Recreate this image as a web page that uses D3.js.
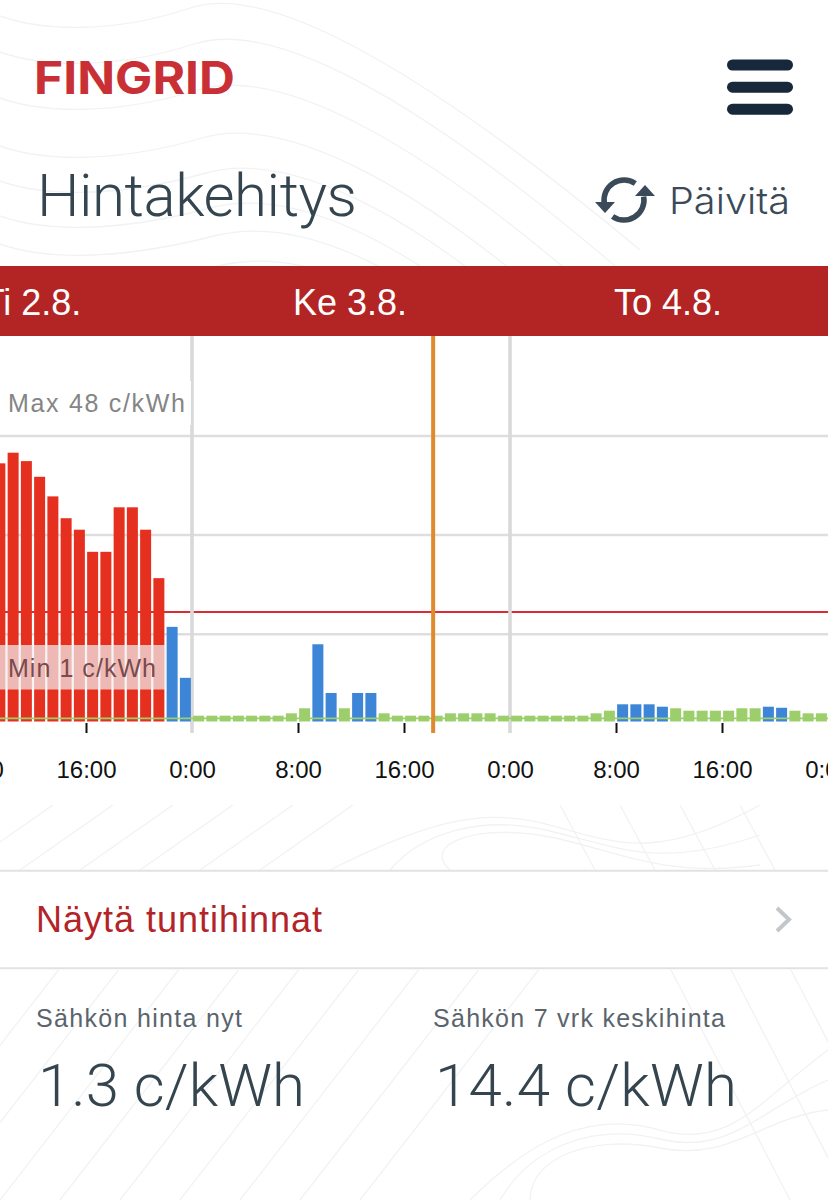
<!DOCTYPE html>
<html><head><meta charset="utf-8">
<script src="https://cdnjs.cloudflare.com/ajax/libs/d3/7.8.5/d3.min.js"></script>
<style>
html,body{margin:0;padding:0;background:#fff;overflow:hidden}
svg{display:block}
text{font-family:"Liberation Sans",Arial,sans-serif}
.light{font-family:Roboto,Inter,sans-serif;font-weight:300}
</style></head><body>
<svg id="c" width="828" height="1200"></svg>
<script>
// ---- data (c/kWh), hours counted from Wed 3.8. 00:00 ----
const dayLabels = ["Ti 2.8.", "Ke 3.8.", "To 4.8."];
const dayHours = [-12, 12, 36];
const dayLines = [0, 24];
const tueStartHour = -15; // 09:00 on 2.8.
const tueValues = [46.1,48.0,46.5,43.7,40.2,36.3,34.25,30.3,30.3,38.25,38.25,34.25,25.6,16.9,7.8];
const wedValues = [1.04,1.04,1.04,1.04,1.04,1.04,1.04,1.46,2.36,13.79,5.09,2.36,5.09,5.09,1.46,1.04,1.04,1.04,1.04,1.46,1.46,1.46,1.46,1.04];
const thuValues = [1.04,1.04,1.04,1.04,1.04,1.04,1.46,1.93,3.07,3.07,3.07,2.64,2.36,1.93,1.93,1.93,1.93,2.36,2.36,2.64,2.45,1.93,1.46,1.46];
const tickHours = [-16,-8,0,8,16,24,32,40,48];
const tickLabels = ["8:00","16:00","0:00","8:00","16:00","0:00","8:00","16:00","0:00"];
const gridValues = [15.6,33.3,51];
const redLimit = 19.55, blueLimit = 2.4, greenLine = 0.55, nowHour = 18.2;
const maxLabel = "Max 48 c/kWh", minLabel = "Min 1 c/kWh";
const C = {red:"#e6301f", blue:"#3d85d6", green:"#9ccf6c", grid:"#dedede", orange:"#e08a2e", band:"#b32424", ink:"#35454f"};

const svg = d3.select("#c");
const x = d3.scaleLinear().domain([0,24]).range([192,510]);
const y = d3.scaleLinear().domain([0,48]).range([721.5,452.7]);
const bottom = 733, top_ = 336;
const W = 828;

// ---- decorative background contours ----
const defs = svg.append("defs");
const cp = defs.append("clipPath").attr("id","bg");
[[0,0,828,266],[0,805,828,65],[0,970,828,230]].forEach(r=>cp.append("rect").attr("x",r[0]).attr("y",r[1]).attr("width",r[2]).attr("height",r[3]));
const bg = svg.append("g").attr("clip-path","url(#bg)").attr("fill","none").attr("stroke","#f1f2f3").attr("stroke-width",1.3);
[0,36,82,130,165,200,228,258].forEach((d,i)=>{
  bg.append("path").attr("d",`M-10 ${12+d} C40 ${34+d},120 ${32+d},${190+i*4} ${8+d} S${400+i*8} ${50+d},${640-i*6} ${250+d*.9}`);
});
[0,60,120,180,240,300].forEach(d=>{
  bg.append("path").attr("d",`M${d-40} 870 L${d+60} 800`);
});
[0,60,120,180,240,300,360,420,480].forEach(d=>{
  bg.append("path").attr("d",`M${d-120} 1200 L${d+60} 968`);
});
[0,30,60].forEach(d=>{
  bg.append("path").attr("d",`M${330+d*2} 870 C420 ${825+d*.3},480 ${805+d*.3},550 ${825+d*.2} S660 ${860+d*.3},760 ${805+d}`);
  bg.append("path").attr("d",`M${470+d} 1200 C530 ${1140+d*.3},590 ${1110+d*.4},660 ${1130+d*.3} S760 ${1100+d*.3},828 ${1050+d}`);
});
[560,620,680,740].forEach(d=>{
  bg.append("path").attr("d",`M${d} 805 L${d+35} 870`);
  bg.append("path").attr("d",`M${d+110} 968 L${d+230} 1200`);
});

// ---- header ----
svg.append("text").text("FINGRID").attr("x",34).attr("y",94).attr("textLength",201).attr("lengthAdjust","spacingAndGlyphs")
  .style("font-family","Inter,Lato,sans-serif").style("font-weight",700).attr("font-size",45).attr("fill","#c93035");
[[59.5],[81.7],[103.7]].forEach(d=>svg.append("rect").attr("x",727).attr("y",d[0]).attr("width",66).attr("height",11).attr("rx",5.5).attr("fill","#16283a"));
svg.append("text").attr("class","light").text("Hintakehitys").attr("x",37).attr("y",216).attr("textLength",320).attr("font-size",60).attr("fill",C.ink);
svg.append("text").text("Päivitä").attr("x",669).attr("y",214).attr("textLength",121).attr("lengthAdjust","spacingAndGlyphs")
  .style("font-family","Inter,Roboto,sans-serif").style("font-weight",300).attr("font-size",37).attr("fill","#3a4a58");
// refresh icon
const ic = svg.append("g").attr("transform","translate(624,200)").attr("fill","none").attr("stroke","#3a4a58").attr("stroke-width",5.5);
const arc = d3.arc().innerRadius(20).outerRadius(20);
ic.append("path").attr("d",arc({startAngle:-1.75,endAngle:0.6}));
ic.append("path").attr("d",arc({startAngle:1.4,endAngle:3.75}));
ic.append("path").attr("d","M-29 3 L-9 3 L-19 14 Z").attr("fill","#3a4a58").attr("stroke","none").attr("transform","translate(0,-1)");
ic.append("path").attr("d","M11 -4 L31 -4 L21 -15 Z").attr("fill","#3a4a58").attr("stroke","none");

// ---- chart ----
svg.append("g").selectAll("line").data(gridValues).join("line")
  .attr("x1",0).attr("x2",W).attr("y1",d=>y(d)).attr("y2",d=>y(d)).attr("stroke",C.grid).attr("stroke-width",2.5);
svg.append("line").attr("x1",0).attr("x2",W).attr("y1",y(redLimit)).attr("y2",y(redLimit)).attr("stroke","#dd2b33").attr("stroke-width",2);

const bars = [
  ...tueValues.map((v,i)=>({h:tueStartHour+i,v})),
  ...wedValues.map((v,i)=>({h:i,v})),
  ...thuValues.map((v,i)=>({h:24+i,v}))
];
const col = v => v>=redLimit ? C.red : v>=blueLimit ? C.blue : C.green;
const bw = (x(1)-x(0))*0.83;

svg.append("g").selectAll("line").data(dayLines).join("line")
  .attr("x1",d=>x(d)).attr("x2",d=>x(d)).attr("y1",top_).attr("y2",bottom).attr("stroke","#d9d9da").attr("stroke-width",3.6);

svg.append("g").selectAll("rect").data(bars).join("rect")
  .attr("x",d=>x(d.h)+(x(1)-x(0)-bw)/2).attr("width",bw)
  .attr("y",d=>y(d.v)).attr("height",d=>y(0)-y(d.v)).attr("fill",d=>col(d.v));

svg.append("line").attr("x1",0).attr("x2",W).attr("y1",y(greenLine)).attr("y2",y(greenLine)).attr("stroke",C.green).attr("stroke-width",1.6);

svg.append("line").attr("x1",x(nowHour)).attr("x2",x(nowHour)).attr("y1",top_).attr("y2",bottom).attr("stroke",C.orange).attr("stroke-width",4);

// min / max labels
svg.append("rect").attr("x",0).attr("y",381).attr("width",191).attr("height",44).attr("fill","#fff").attr("opacity",.92);
svg.append("text").text(maxLabel).attr("x",8).attr("y",412).attr("textLength",177).attr("font-size",25).attr("fill","#858585");
svg.append("rect").attr("x",0).attr("y",645).attr("width",166).attr("height",44.5).attr("fill","#f1eeee").attr("opacity",.72);
svg.append("text").text(minLabel).attr("x",8).attr("y",677).attr("textLength",148).attr("font-size",25).attr("fill","#7a4a4c");

// x axis via d3.axisBottom
const axisScale = d3.scaleLinear().domain([-48,48]).range([x(-48),x(48)]);
const axis = d3.axisBottom(axisScale).tickValues(tickHours).tickSize(10).tickPadding(0).tickFormat((d,i)=>tickLabels[i]);
const ax = svg.append("g").attr("transform","translate(0,723)").call(axis);
ax.select(".domain").remove();
ax.selectAll(".tick line").attr("stroke","#111").attr("stroke-width",2)
  .attr("display",d=>(d%24===0)?"none":null);
ax.selectAll(".tick text").attr("y",55).attr("dy",0).attr("font-size",24).attr("fill","#111")
  .style("font-family","'Liberation Sans',Arial,sans-serif");

// day band
svg.append("rect").attr("x",0).attr("y",266).attr("width",W).attr("height",70).attr("fill",C.band);
svg.append("g").selectAll("text").data(dayLabels).join("text").text(d=>d)
  .attr("x",(d,i)=>x(dayHours[i])-1).attr("y",315).attr("text-anchor","middle").attr("font-size",36).attr("fill","#fff");

// ---- footer ----
[870.7,968.3].forEach(v=>svg.append("line").attr("x1",0).attr("x2",W).attr("y1",v).attr("y2",v).attr("stroke","#e2e2e3").attr("stroke-width",2));
svg.append("text").text("Näytä tuntihinnat").attr("x",36).attr("y",932).attr("textLength",286).attr("font-size",36).attr("fill","#b32428");
svg.append("path").attr("d","M777 908 L789 919.5 L777 931").attr("fill","none").attr("stroke","#c3c7ca").attr("stroke-width",4);
const foot = [["Sähkön hinta nyt",36,206,"1.3 c/kWh",38,267],["Sähkön 7 vrk keskihinta",433,292,"14.4 c/kWh",435,302]];
foot.forEach(f=>{
  svg.append("text").text(f[0]).attr("x",f[1]).attr("y",1027).attr("textLength",f[2]).attr("font-size",25).attr("fill","#5a646c");
  svg.append("text").attr("class","light").text(f[3]).attr("x",f[4]).attr("y",1106).attr("textLength",f[5]).attr("font-size",60).attr("fill",C.ink);
});
</script>
</body></html>
